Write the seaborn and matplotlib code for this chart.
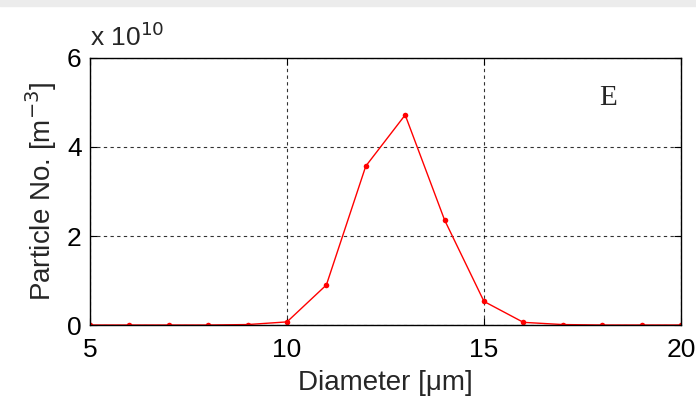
import numpy as np
import pandas as pd
import matplotlib
matplotlib.use("Agg")
import matplotlib.pyplot as plt
import seaborn as sns

sns.set_style("white")
plt.rcParams['font.family'] = ['Liberation Sans', 'DejaVu Sans']

# particle number per diameter bin, in units of 1e10 m^-3
diameter = [5, 6, 7, 8, 9, 10, 11, 12, 13, 14, 15, 16, 17, 18, 19, 20]
particles_e10 = [0.0, 0.0, 0.0, 0.0, 0.01, 0.07, 0.90, 3.57, 4.72, 2.36, 0.53, 0.06, 0.01, 0.0, 0.0, 0.0]
x_ticks = [5, 10, 15, 20]
y_ticks = [0, 2, 4, 6]

df = pd.DataFrame({'d': diameter, 'n': particles_e10})

fig = plt.figure(figsize=(6.96, 3.98), dpi=100)
ax = fig.add_axes([0.1293, 0.1834, 0.8491, 0.6709])

# thin grey strip along the top edge of the screenshot
fig.patches.append(plt.Rectangle((0, 0.985), 1, 0.015, transform=fig.transFigure,
                                 color='#ececec', zorder=0))

sns.lineplot(data=df, x='d', y='n', ax=ax, color='red', lw=1,
             marker='o', markersize=4, markeredgewidth=0)

ax.set_xlim(5, 20)
ax.set_ylim(0, 6)
ax.set_xticks(x_ticks)
ax.set_yticks(y_ticks)
ax.tick_params(direction='in', length=5, width=0.8, labelsize=19, colors='black',
               top=True, right=True, bottom=True, left=True)
ax.tick_params(axis='x', pad=9)
ax.tick_params(axis='y', pad=6)
ax.grid(True, color='black', ls=(0, (3, 3)), lw=0.8, alpha=0.8)
for s in ax.spines.values():
    s.set_color('black')
    s.set_linewidth(1)

ax.set_xlabel('Diameter [\u03bcm]', fontsize=20, labelpad=6)
ax.set_ylabel('Particle No. [m$^{-3}$]', fontsize=20, labelpad=6)
ax.text(0.0, 1.025, 'x 10$^{10}$', transform=ax.transAxes, fontsize=19, va='bottom', ha='left')
ax.text(0.877, 0.85, 'E', transform=ax.transAxes, fontsize=21,
        family=['Liberation Serif', 'DejaVu Serif'], ha='center', va='center')

fig.savefig('out.png', dpi=100)
